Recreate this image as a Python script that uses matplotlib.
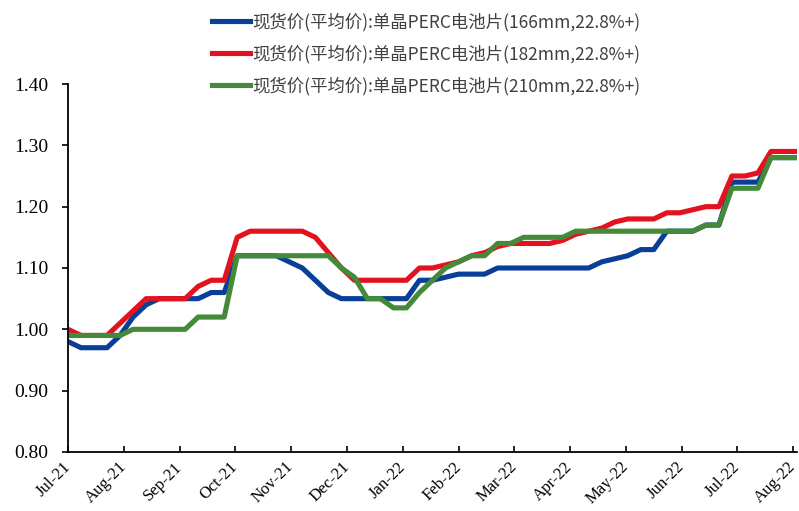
import numpy as np
import pandas as pd
import matplotlib.pyplot as plt
import matplotlib.dates as mdates

plt.rcParams['font.family'] = ['Noto Sans CJK SC', 'DejaVu Sans']

# 周度现货均价, 单位 元/W
dates = pd.date_range('2021-07-07', periods=57, freq='7D')
tick_dates = pd.date_range('2021-07-07', periods=14, freq='30D')

p166 = [0.98, 0.97, 0.97, 0.97, 0.99, 1.02, 1.04, 1.05, 1.05, 1.05,
        1.05, 1.06, 1.06, 1.12, 1.12, 1.12, 1.12, 1.11, 1.10, 1.08,
        1.06, 1.05, 1.05, 1.05, 1.05, 1.05, 1.05, 1.08, 1.08, 1.085,
        1.09, 1.09, 1.09, 1.10, 1.10, 1.10, 1.10, 1.10, 1.10, 1.10,
        1.10, 1.11, 1.115, 1.12, 1.13, 1.13, 1.16, 1.16, 1.16, 1.17,
        1.17, 1.24, 1.24, 1.24, 1.28, 1.28, 1.28]
p182 = [1.00, 0.99, 0.99, 0.99, 1.01, 1.03, 1.05, 1.05, 1.05, 1.05,
        1.07, 1.08, 1.08, 1.15, 1.16, 1.16, 1.16, 1.16, 1.16, 1.15,
        1.125, 1.10, 1.08, 1.08, 1.08, 1.08, 1.08, 1.10, 1.10, 1.105,
        1.11, 1.12, 1.125, 1.135, 1.14, 1.14, 1.14, 1.14, 1.145, 1.155,
        1.16, 1.165, 1.175, 1.18, 1.18, 1.18, 1.19, 1.19, 1.195, 1.20,
        1.20, 1.25, 1.25, 1.255, 1.29, 1.29, 1.29]
p210 = [0.99, 0.99, 0.99, 0.99, 0.99, 1.00, 1.00, 1.00, 1.00, 1.00,
        1.02, 1.02, 1.02, 1.12, 1.12, 1.12, 1.12, 1.12, 1.12, 1.12,
        1.12, 1.10, 1.085, 1.05, 1.05, 1.035, 1.035, 1.06, 1.08, 1.10,
        1.11, 1.12, 1.12, 1.14, 1.14, 1.15, 1.15, 1.15, 1.15, 1.16,
        1.16, 1.16, 1.16, 1.16, 1.16, 1.16, 1.16, 1.16, 1.16, 1.17,
        1.17, 1.23, 1.23, 1.23, 1.28, 1.28, 1.28]

series = [p166, p182, p210]
labels = ['现货价(平均价):单晶PERC电池片(166mm,22.8%+)',
          '现货价(平均价):单晶PERC电池片(182mm,22.8%+)',
          '现货价(平均价):单晶PERC电池片(210mm,22.8%+)']
colors = ['#0a3f99', '#e3121f', '#448a3a']

fig = plt.figure(figsize=(7.99, 5.11), dpi=100)
ax = fig.add_axes([0.0851, 0.1155, 0.9124, 0.7201])

for y, lab, c in zip(series, labels, colors):
    ax.plot(dates, y, color=c, lw=3.7, label=lab)

ax.set_xlim(dates[0], dates[-1])
ax.set_ylim(0.8, 1.4)
ax.set_yticks(np.arange(0.8, 1.41, 0.1))
ax.yaxis.set_major_formatter(plt.FormatStrFormatter('%.2f'))
ax.set_xticks(tick_dates)
ax.xaxis.set_major_formatter(mdates.DateFormatter('%b-%y'))

for s in ['top', 'right']:
    ax.spines[s].set_visible(False)
for s in ['left', 'bottom']:
    ax.spines[s].set_linewidth(1.3)
    ax.spines[s].set_color('black')

ax.tick_params(axis='y', direction='out', length=4, width=1.2, pad=10)
ax.tick_params(axis='x', direction='in', length=4, width=1.2, pad=9)
for t in ax.get_yticklabels():
    t.set_fontfamily('Liberation Serif')
    t.set_fontsize(14)
for t in ax.get_xticklabels():
    t.set_fontfamily('Liberation Serif')
    t.set_fontsize(12)
    t.set_rotation(45)
    t.set_ha('right')
    t.set_va('center')
    t.set_rotation_mode('anchor')

fig.legend(loc='center', bbox_to_anchor=(426 / 799, 1 - 54 / 511),
           frameon=False, prop={'size': 12.5}, handlelength=2.2,
           handletextpad=0.15, labelspacing=0.78, labelcolor='#404040')

fig.savefig('out.png', dpi=100)
